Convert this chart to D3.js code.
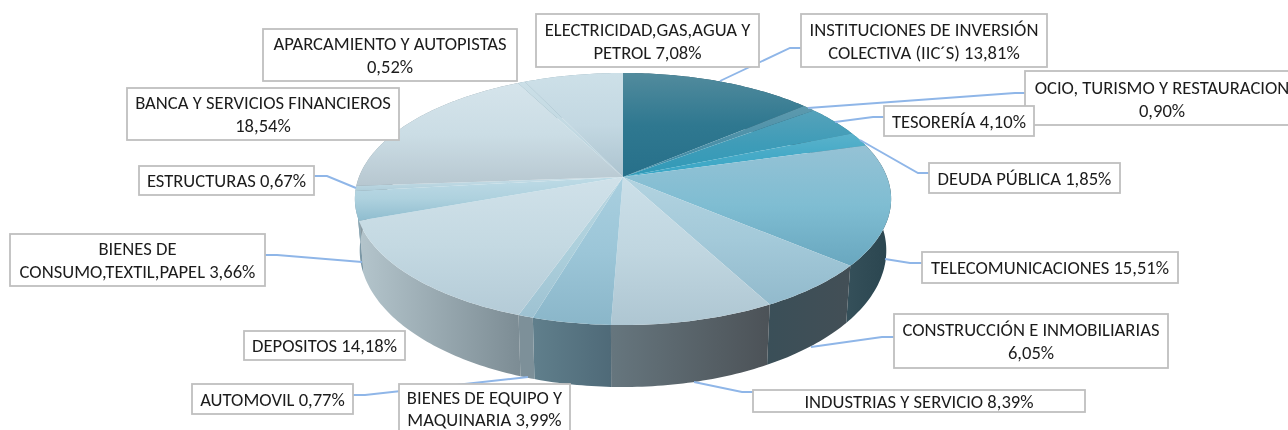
<!DOCTYPE html>
<html><head><meta charset="utf-8">
<style>html,body{margin:0;padding:0;background:#fff;overflow:hidden}svg{display:block;filter:blur(0.35px)}text{font-family:Carlito,Lato,sans-serif;fill:#1c1c1c}</style>
<script src="https://cdn.jsdelivr.net/npm/d3@7/dist/d3.min.js"></script></head><body>
<script>
// ---- data, clockwise from 12 o'clock
const categories=["INSTITUCIONES DE INVERSIÓN COLECTIVA (IIC´S)","OCIO, TURISMO Y RESTAURACION","TESORERÍA","DEUDA PÚBLICA","TELECOMUNICACIONES","CONSTRUCCIÓN E INMOBILIARIAS","INDUSTRIAS Y SERVICIO","BIENES DE EQUIPO Y MAQUINARIA","AUTOMOVIL","DEPOSITOS","BIENES DE CONSUMO,TEXTIL,PAPEL","ESTRUCTURAS","BANCA Y SERVICIOS FINANCIEROS","APARCAMIENTO Y AUTOPISTAS","ELECTRICIDAD,GAS,AGUA Y PETROL"];
const values=[13.81,0.90,4.10,1.85,15.51,6.05,8.39,3.99,0.77,14.18,3.66,0.67,18.54,0.52,7.08];
const labelLines=[
 ["INSTITUCIONES DE INVERSIÓN","COLECTIVA (IIC´S) 13,81%"],["OCIO, TURISMO Y RESTAURACION","0,90%"],["TESORERÍA 4,10%"],["DEUDA PÚBLICA 1,85%"],
 ["TELECOMUNICACIONES 15,51%"],["CONSTRUCCIÓN E INMOBILIARIAS","6,05%"],["INDUSTRIAS Y SERVICIO 8,39%"],["BIENES DE EQUIPO Y","MAQUINARIA 3,99%"],
 ["AUTOMOVIL 0,77%"],["DEPOSITOS 14,18%"],["BIENES DE","CONSUMO,TEXTIL,PAPEL 3,66%"],["ESTRUCTURAS 0,67%"],["BANCA Y SERVICIOS FINANCIEROS","18,54%"],["APARCAMIENTO Y AUTOPISTAS","0,52%"],["ELECTRICIDAD,GAS,AGUA Y","PETROL 7,08%"]];
// ---- styles
const topColors=[["#528b9d","#2f7890","#27708a"],["#5d9aae","#4c90a8","#3f8aa4"],["#55a2ba","#3f9cb8","#309ab8"],["#5ab2cb","#46aac7","#38a6c6"],["#95c2d5","#7fbdd2","#69a7bf"],["#b2d3e0","#a3c9d9","#92bacc"],["#cbdfe8","#c0d6e0","#aec6d2"],["#a9cfdf","#9cc6d8","#8ab6c9"],["#bad6e1","#add0dc","#9ec2d2"],["#d0e1e9","#c4d9e2","#b4cbd7"],["#bedbe6","#aed1de","#8fbdcf"],["#c8dee7","#bcd7e2","#aecdd9"],["#d5e4eb","#cbdde5","#b7c7d0"],["#cbdfe7","#c2d9e2","#b6cfda"],["#cde0e8","#c3d8e2","#acc3cf"]];
const wallColors=[["#2a5566","#2a5566"],["#3a6a7a","#3a6a7a"],["#3a7a90","#3a7a90"],["#3a8aa0","#3a8aa0"],["#35505a","#2a454f"],["#3a4f58","#434f56"],["#66767e","#4c5257"],["#607f8c","#4f6a78"],["#7d9099","#7d9099"],["#b4c5cc","#7c8c94"],["#7c98a6","#7c98a6"],["#8aa6b2","#8aa6b2"],["#8a9aa2","#8a9aa2"],["#8aa6b2","#8aa6b2"],["#8aa6b2","#8aa6b2"]];
// ---- label boxes [x0,y0,x1,y1] and leader polylines
const boxes=[[801,14,1047,67],[1025,71,1300,125],[884,106,1034,136],[929,163,1120,193],[922,252,1178,283],[894,314,1168,368],[753,390,1085,412],[399,384,570,437],[192,384,353,414],[244,331,405,360],[10,234,265,286],[139,166,314,195],[127,88,399,140],[263,29,517,81],[536,14,759,67]];
const leaders=[[[720,81],[790,48],[801,48]],[[808,108],[1015,93],[1025,93]],[[835,122],[873,117],[884,117]],[[860,140],[918,173],[929,173]],[[885,259],[910,263],[922,263]],[[811,347],[882,337],[894,337]],[[694,382],[742,392],[753,392]],null,[[528,377],[365,395],[353,395]],null,[[362,262],[277,255],[265,255]],[[356,188],[327,176],[314,176]],null,null,null];
const drawOrder=[14,0,1,2,3,4,5,6,8,7,9,10,11,12,13];

const W=1288,H=430,cx=623,cy=177,a=264,b=122.2,k=0.1746,bottomY=226.7,sx=0.982,sy=1.083;
const project=(theta,z)=>{const u=Math.sin(theta),v=-Math.cos(theta),d=1-k*v;
  return z?[cx+sx*a*u/d, bottomY+sy*b*v/d]:[cx+a*u/d, cy+b*v/d];};
const svg=d3.select("body").append("svg").attr("width",W).attr("height",H);
const defs=svg.append("defs");
const arcs=d3.pie().sort(null).startAngle(0).endAngle(2*Math.PI)(values);
const rim=(d,z)=>{const n=Math.max(4,Math.ceil((d.endAngle-d.startAngle)*60));
  return d3.range(n+1).map(i=>project(d.startAngle+(d.endAngle-d.startAngle)*i/n,z));};
const line=d3.line();
arcs.forEach((d,i)=>{
  const g=defs.append("linearGradient").attr("id","t"+i).attr("x1",0).attr("x2",0).attr("y1",0).attr("y2",1);
  topColors[i].forEach((c,j)=>g.append("stop").attr("offset",j/2).attr("stop-color",c));
  const w=defs.append("linearGradient").attr("id","w"+i).attr("x1",0).attr("x2",1).attr("y1",0).attr("y2",0);
  wallColors[i].forEach((c,j)=>w.append("stop").attr("offset",j).attr("stop-color",c));
});
svg.append("g").selectAll("path").data(arcs).join("path")
  .attr("d",d=>line(rim(d,0).concat(rim(d,1).reverse()))+"Z")
  .attr("fill",(d,i)=>`url(#w${i})`);
svg.append("g").selectAll("path").data(arcs).join("path")
  .attr("d",d=>line([[cx,cy]].concat(rim(d,0)))+"Z")
  .attr("fill",(d,i)=>`url(#t${i})`);
const lead=svg.append("g");
leaders.forEach(p=>{if(p)lead.append("path").attr("d",line(p)).attr("fill","none").attr("stroke","#8fb6e8").attr("stroke-width",1.9);});
const labels=svg.append("g").selectAll("g").data(drawOrder).join("g");
labels.append("rect").attr("x",i=>boxes[i][0]).attr("y",i=>boxes[i][1])
  .attr("width",i=>boxes[i][2]-boxes[i][0]).attr("height",i=>boxes[i][3]-boxes[i][1])
  .attr("fill","#fff").attr("stroke","#bfbfbf").attr("stroke-width",1.8);
labels.each(function(i){
  const L=labelLines[i],B=boxes[i];
  const mx=i===7?484.5:i===1?1162:(B[0]+B[2])/2;
  const my=i===7?397.5:i===1?87:(B[1]+B[3])/2-(L.length-1)*11.5;
  const pitch=i===7?22:23;
  L.forEach((t,j)=>d3.select(this).append("text").attr("x",mx).attr("y",my+j*pitch)
    .attr("text-anchor","middle").attr("dominant-baseline","central").attr("font-size",18.6).text(t));
});
</script></body></html>
